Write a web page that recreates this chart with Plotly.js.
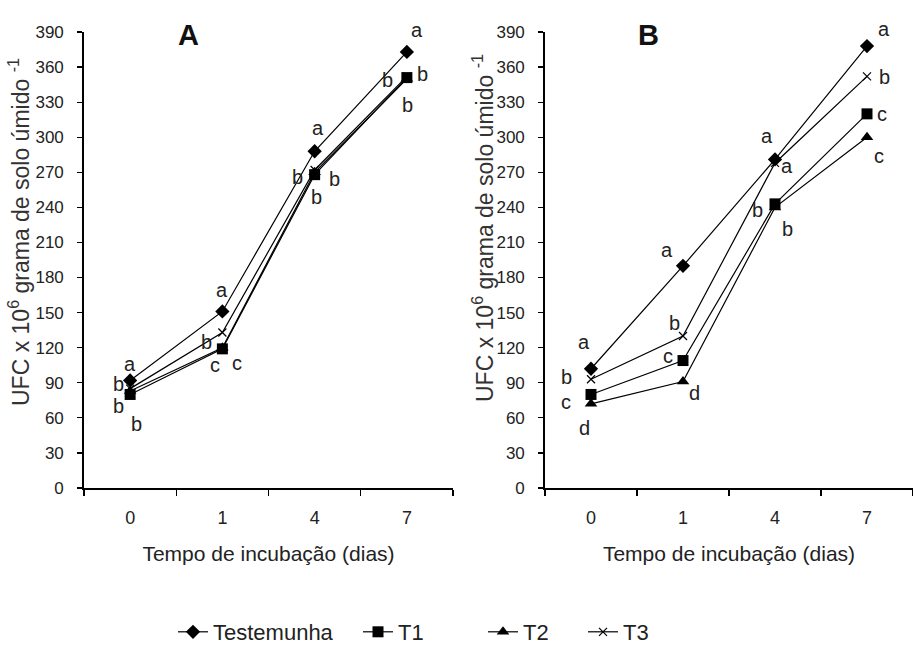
<!DOCTYPE html>
<html><head><meta charset="utf-8">
<script src="https://cdn.plot.ly/plotly-3.0.1.min.js"></script>
<style>html,body{margin:0;padding:0;background:#fff}#chart{width:913px;height:660px}</style>
</head><body><div id="chart"></div>
<script>
// ---- data ----
const days = ['0', '1', '4', '7'];
const seriesNames = ['Testemunha', 'T1', 'T2', 'T3'];
const yTickVals = [0, 30, 60, 90, 120, 150, 180, 210, 240, 270, 300, 330, 360, 390];

const A_test = [92, 151, 288, 373];
const A_t1 = [80, 119, 268, 351];
const A_t2 = [83, 120, 270, 350];
const A_t3 = [85, 133, 272, 352];

const B_test = [102, 190, 281, 378];
const B_t1 = [80, 109, 243, 320];
const B_t2 = [72, 91, 240, 300];
const B_t3 = [93, 130, 278, 352];

const A_let_test = ['a', 'a', 'a', 'a'];
const A_let_t1 = ['b', 'c', 'b', 'b'];
const A_let_t2 = ['b', 'c', 'b', 'b'];
const A_let_t3 = ['b', 'b', 'b', 'b'];

const B_let_test = ['a', 'a', 'a', 'a'];
const B_let_t1 = ['c', 'c', 'b', 'c'];
const B_let_t2 = ['d', 'd', 'b', 'c'];
const B_let_t3 = ['b', 'b', 'a', 'b'];

const panelLabels = ['A', 'B'];
const xTitle = 'Tempo de incubação (dias)';
const yTitle = 'UFC x 10<sup>6</sup> grama de solo úmido <sup>-1</sup>';

// ---- styling / placement (pixels) ----
const FONT = '"Liberation Sans", Arial, sans-serif';
const symbols = {Testemunha: 'diamond', T1: 'square', T2: 'triangle-up', T3: 'x-thin-open'};
const msize = {Testemunha: 11, T1: 11, T2: 11, T3: 8};
// letter offsets [dx, dy] in px (dy positive = down)
const offA = {
  Testemunha: [[0, -16], [0, -21], [3, -23], [10, -22]],
  T3: [[-12, -5], [-16, 10], [-17, 7], [-19, 4]],
  T1: [[-12, 12], [-7, 16], [20, 4], [16, -4]],
  T2: [[6, 33], [15, 15], [2, 25], [1, 26]]
};
const offB = {
  Testemunha: [[-7, -27], [-16, -16], [-8, -23], [17, -17]],
  T3: [[-25, -2], [-9, -13], [12, 3], [17, 1]],
  T1: [[-25, 8], [-15, -5], [-18, 6], [15, 0]],
  T2: [[-7, 24], [11, 11], [12, 22], [12, 19]]
};
// legend text start x (px)
const legendTextX = {Testemunha: 215, T1: 400, T2: 525, T3: 625};
const legendKeys = {Testemunha: 'legend', T1: 'legend2', T2: 'legend3', T3: 'legend4'};

const panels = [
  {xa: 'x', ya: 'y', vals: {Testemunha: A_test, T1: A_t1, T2: A_t2, T3: A_t3},
   lets: {Testemunha: A_let_test, T1: A_let_t1, T2: A_let_t2, T3: A_let_t3}, off: offA},
  {xa: 'x2', ya: 'y2', vals: {Testemunha: B_test, T1: B_t1, T2: B_t2, T3: B_t3},
   lets: {Testemunha: B_let_test, T1: B_let_t1, T2: B_let_t2, T3: B_let_t3}, off: offB}
];

const drawOrder = ['T3', 'T2', 'T1', 'Testemunha'];
const traces = [];
const annotations = [];
panels.forEach((p, pi) => {
  drawOrder.forEach(name => {
    traces.push({
      type: 'scatter', mode: 'lines+markers', x: days, y: p.vals[name],
      xaxis: p.xa, yaxis: p.ya, name: name,
      legend: legendKeys[name],
      showlegend: pi === 0,
      line: {color: '#000', width: 1.2},
      marker: {symbol: symbols[name], size: msize[name], color: '#000',
               line: {color: '#000', width: name === 'T3' ? 1.2 : 0}},
      hoverinfo: 'skip'
    });
    p.lets[name].forEach((t, i) => {
      annotations.push({
        xref: p.xa, yref: p.ya, x: i, y: p.vals[name][i], text: t,
        showarrow: false, xanchor: 'center', yanchor: 'middle',
        xshift: p.off[name][i][0], yshift: -p.off[name][i][1],
        font: {family: FONT, size: 20, color: '#222'}
      });
    });
  });
});

const H = 660, W = 913;
const yDom = [(H - 488) / H, (H - 32) / H];
annotations.push(
  {xref: 'paper', yref: 'paper', x: 188 / W, y: (H - 35) / H, text: '<b>' + panelLabels[0] + '</b>',
   showarrow: false, xanchor: 'center', yanchor: 'middle',
   font: {family: FONT, size: 29, color: '#111'}},
  {xref: 'paper', yref: 'paper', x: 648 / W, y: (H - 35) / H, text: '<b>' + panelLabels[1] + '</b>',
   showarrow: false, xanchor: 'center', yanchor: 'middle',
   font: {family: FONT, size: 29, color: '#111'}},
  {xref: 'paper', yref: 'paper', x: 19 / W, y: (H - 232) / H, text: yTitle, textangle: -90,
   showarrow: false, xanchor: 'center', yanchor: 'middle',
   font: {family: FONT, size: 23, color: '#333'}},
  {xref: 'paper', yref: 'paper', x: 483 / W, y: (H - 228) / H, text: yTitle, textangle: -90,
   showarrow: false, xanchor: 'center', yanchor: 'middle',
   font: {family: FONT, size: 23, color: '#333'}}
);

function xAxis(dom, anchor) {
  return {
    domain: dom, anchor: anchor, type: 'category', range: [-0.5, 3.5],
    tickson: 'boundaries', ticks: 'outside', ticklen: 6, tickwidth: 1.2, tickcolor: '#000',
    showline: true, linecolor: '#000', linewidth: 1.8, showgrid: false, zeroline: false,
    tickfont: {family: FONT, size: 18, color: '#222'}, ticklabelstandoff: 13,
    title: {text: xTitle, standoff: 19, font: {family: FONT, size: 21, color: '#222'}},
    fixedrange: true
  };
}
function yAxis(anchor) {
  return {
    domain: yDom, anchor: anchor, range: [0, 390], tickvals: yTickVals,
    ticks: 'outside', ticklen: 5, tickwidth: 1.2, tickcolor: '#000',
    showline: true, linecolor: '#000', linewidth: 1.8, showgrid: false, zeroline: false,
    tickfont: {family: FONT, size: 17, color: '#222'}, ticklabelstandoff: 10, fixedrange: true
  };
}

const layout = {
  width: W, height: H, margin: {l: 0, r: 0, t: 0, b: 0},
  paper_bgcolor: '#fff', plot_bgcolor: '#fff',
  xaxis: xAxis([84 / W, 453 / W], 'y'),
  yaxis: yAxis('x'),
  xaxis2: xAxis([545 / W, 1], 'y2'),
  yaxis2: yAxis('x2'),
  showlegend: true,
  annotations: annotations
};
seriesNames.forEach(name => {
  layout[legendKeys[name]] = {
    orientation: 'h', x: (legendTextX[name] - 42) / W, xanchor: 'left',
    y: (H - 632) / H, yanchor: 'middle', bgcolor: 'rgba(0,0,0,0)',
    font: {family: FONT, size: 22, color: '#222'}
  };
});

Plotly.newPlot('chart', traces, layout, {displayModeBar: false, staticPlot: true});
</script>
</body></html>
